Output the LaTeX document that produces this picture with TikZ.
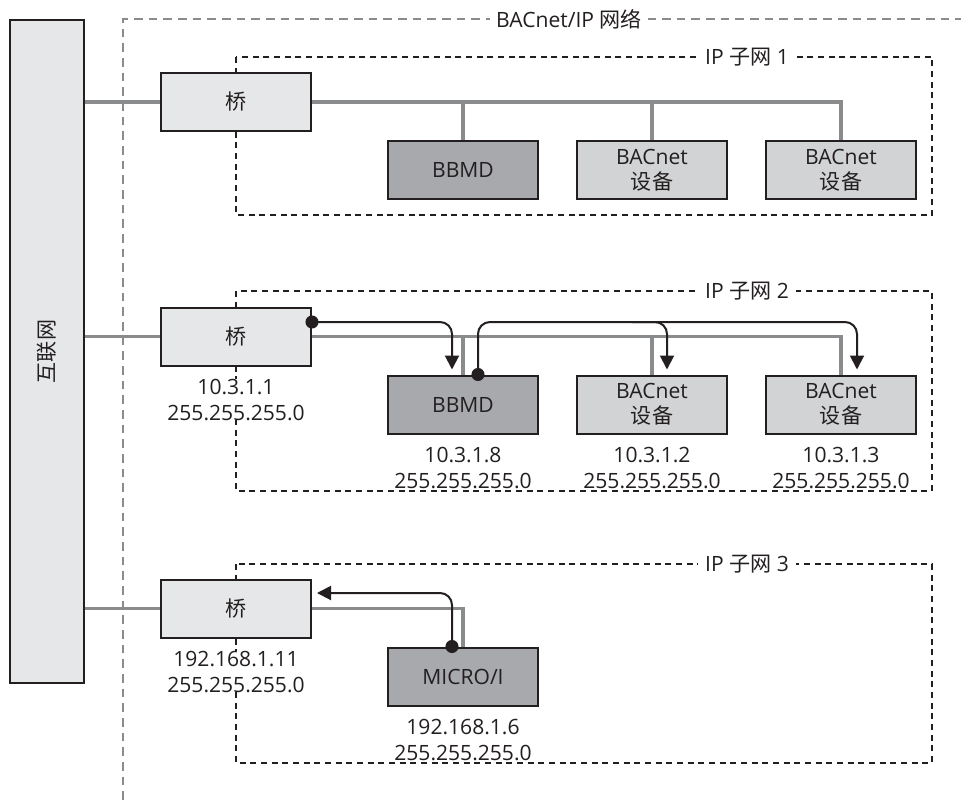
\documentclass[tikz,border=0pt]{standalone}
\usepackage{fontspec}
\setmainfont{Open Sans}
\newfontfamily\cjk{Noto Sans CJK SC}
\usetikzlibrary{arrows.meta,calc}
\definecolor{txt}{HTML}{231F20}
\definecolor{boxline}{HTML}{231F20}
\definecolor{lightfill}{HTML}{E6E7E8}
\definecolor{midfill}{HTML}{D1D3D4}
\definecolor{darkfill}{HTML}{A7A9AC}
\definecolor{wirecol}{HTML}{8A8B8D}
\begin{document}
\begin{tikzpicture}[x=0.75pt,y=-0.75pt,
  every node/.style={font=\fontsize{15.8pt}{18.75pt}\selectfont, text=txt},
  box/.style={draw=boxline, line width=1.5pt, minimum width=112.5pt, minimum height=43.5pt, inner sep=0pt, align=center},
  wire/.style={draw=wirecol, line width=2.4pt},
  sig/.style={draw=txt, line width=1.5pt, rounded corners=9pt, -{Triangle[width=10.5pt,length=10.5pt]}},
  dotmark/.style={fill=txt},
  outerdash/.style={draw=wirecol, line width=2.2pt, dash pattern=on 6.5pt off 4.5pt},
  subnet/.style={draw=txt, line width=0.9pt, dash pattern=on 4.5pt off 3.5pt},
  lbl/.style={fill=white, inner xsep=5pt, inner ysep=1pt},
  addr/.style={fill=white, align=center, inner xsep=2pt, inner ysep=0pt, anchor=north, font=\fontsize{15.8pt}{19.5pt}\selectfont}
]
\path[use as bounding box] (0,0) rectangle (961,800);

% network boundaries
\draw[outerdash] (123,800) -- (123,19) -- (961,19);
\draw[subnet] (236,57) rectangle (932,215);
\draw[subnet] (236,291) rectangle (932,491);
\draw[subnet] (236,564) rectangle (932,763);

% nodes
\node[box, fill=lightfill, minimum width=55.5pt, minimum height=497.25pt] (inet) at (47,351.5) {\rotatebox{90}{\cjk 互联网}};

\node[box, fill=lightfill] (br1) at (236,102) {{\cjk 桥}};
\node[box, fill=darkfill] (bbmd1) at (463,170) {BBMD};
\node[box, fill=midfill] (d11) at (652,170) {BACnet\\{\cjk 设备}};
\node[box, fill=midfill] (d12) at (841,170) {BACnet\\{\cjk 设备}};

\node[box, fill=lightfill] (br2) at (236,336.5) {{\cjk 桥}};
\node[box, fill=darkfill] (bbmd2) at (463,404.5) {BBMD};
\node[box, fill=midfill] (d21) at (652,404.5) {BACnet\\{\cjk 设备}};
\node[box, fill=midfill] (d22) at (841,404.5) {BACnet\\{\cjk 设备}};

\node[box, fill=lightfill] (br3) at (236,608.5) {{\cjk 桥}};
\node[box, fill=darkfill] (micro) at (463,676.5) {MICRO/I};

% gray wiring
\draw[wire] (inet.east |- br1.west) -- (br1.west);
\draw[wire] (inet.east |- br2.west) -- (br2.west);
\draw[wire] (inet.east |- br3.west) -- (br3.west);

\draw[wire] (br1.east) -- (br1.east -| d12.north) -- (d12.north);
\draw[wire] (bbmd1.north) -- (bbmd1.north |- br1.east);
\draw[wire] (d11.north) -- (d11.north |- br1.east);

\draw[wire] (br2.east) -- (br2.east -| d22.north) -- (d22.north);
\draw[wire] (bbmd2.north) -- (bbmd2.north |- br2.east);
\draw[wire] (d21.north) -- (d21.north |- br2.east);

\draw[wire] (br3.east) -- (br3.east -| micro.north) -- (micro.north);

% signal paths
\coordinate (s1) at ($(br2.east)+(0,-14.5)$);
\coordinate (s2) at ($(bbmd2.north)+(15,0)$);
\coordinate (s3) at ($(micro.north)+(-11,0)$);
\coordinate (e1) at ($(bbmd2.north)+(-11,-5)$);
\coordinate (e21) at ($(d21.north)+(15,-5)$);
\coordinate (b21) at ($(d21.north)+(-20,0)$);
\coordinate (e22) at ($(d22.north)+(16,-5)$);
\coordinate (e3) at ($(br3.east)+(5,-15.5)$);
\draw[sig] (s1) -| (e1);
\draw[sig] (s2) |- (e22 |- s1) -- (e22);
\draw[sig] (b21 |- s1) -| (e21);
\draw[sig] (s3) |- (e3);
\fill[dotmark] (s1) circle (4.9pt);
\fill[dotmark] (s2) circle (4.9pt);
\fill[dotmark] (s3) circle (4.9pt);

% labels
\node[lbl] (netlbl) at (569,19) {BACnet/IP {\cjk 网络}};
\node[lbl] (sub1) at (747,57) {IP {\cjk 子网} 1};
\node[lbl] (sub2) at (747,291) {IP {\cjk 子网} 2};
\node[lbl] (sub3) at (747,564) {IP {\cjk 子网} 3};

\node[addr] (a-br2) at ($(br2.south)+(0,12)$) {10.3.1.1\\255.255.255.0};
\node[addr] (a-bbmd2) at ($(bbmd2.south)+(0,12)$) {10.3.1.8\\255.255.255.0};
\node[addr] (a-d21) at ($(d21.south)+(0,12)$) {10.3.1.2\\255.255.255.0};
\node[addr] (a-d22) at ($(d22.south)+(0,12)$) {10.3.1.3\\255.255.255.0};
\node[addr] (a-br3) at ($(br3.south)+(0,12)$) {192.168.1.11\\255.255.255.0};
\node[addr] (a-micro) at ($(micro.south)+(0,12)$) {192.168.1.6\\255.255.255.0};
\end{tikzpicture}
\end{document}
